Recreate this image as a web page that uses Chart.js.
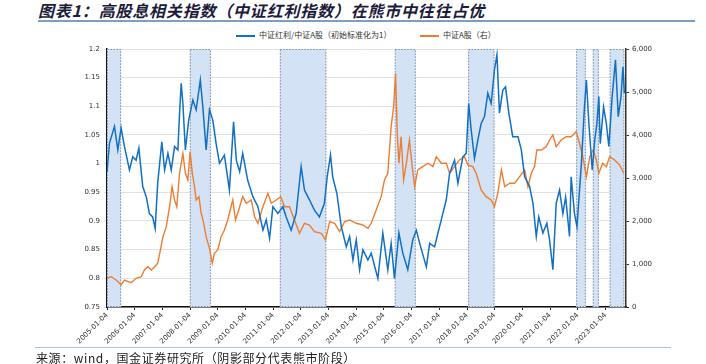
<!DOCTYPE html>
<html>
<head>
<meta charset="utf-8">
<script src="https://cdn.jsdelivr.net/npm/chart.js@4.4.0/dist/chart.umd.min.js"></script>
<style>
  body { margin: 0; width: 706px; height: 364px; background: #fff; position: relative; overflow: hidden; font-family: "Noto Sans CJK SC", sans-serif; }
  #title { position: absolute; left: 38px; top: 0; font-size: 16px; font-weight: bold; font-style: italic; color: #1c1c3a; white-space: nowrap; line-height: 20px; letter-spacing: 0.8px; }
  #topline { position: absolute; left: 38px; top: 20px; width: 657px; height: 2px; background: #7a9fbf; }
  .leg { position: absolute; top: 29px; font-size: 8px; color: #333; white-space: nowrap; line-height: 12px; }
  .leg i { display: inline-block; width: 19px; height: 2px; vertical-align: middle; margin-right: 4px; }
  #chart { position: absolute; left: 0; top: 0; }
  #bottomline { position: absolute; left: 35px; top: 347px; width: 636px; height: 1px; background: #a9c3da; }
  #source { position: absolute; left: 36px; top: 350px; font-size: 12px; color: #222; white-space: nowrap; line-height: 16px; letter-spacing: 0.6px; }
</style>
</head>
<body>
<div id="title">图表1：高股息相关指数（中证红利指数）在熊市中往往占优</div>
<div id="topline"></div>
<div id="legend"></div>
<canvas id="chart" width="706" height="364"></canvas>
<div id="bottomline"></div>
<div id="source">来源：wind，国金证券研究所（阴影部分代表熊市阶段）</div>

<script>
const seriesNames = ['中证红利/中证A股（初始标准化为1）', '中证A股（右）'];
const seriesColors = ['#1170c4', '#ed7d31'];

// 中证红利/中证A股, x = 年份(小数)
const ratioDates = [2005.00, 2005.09, 2005.27, 2005.39, 2005.51, 2005.63, 2005.81, 2005.93, 2006.05, 2006.15,
  2006.29, 2006.42, 2006.53, 2006.65, 2006.74, 2006.83, 2006.98, 2007.08, 2007.20, 2007.32,
  2007.44, 2007.56, 2007.62, 2007.68, 2007.74, 2007.83, 2007.95, 2008.10, 2008.22, 2008.37,
  2008.46, 2008.58, 2008.70, 2008.82, 2008.94, 2009.06, 2009.24, 2009.42, 2009.57, 2009.67,
  2009.79, 2009.90, 2010.08, 2010.27, 2010.45, 2010.63, 2010.75, 2010.87, 2010.99, 2011.17,
  2011.35, 2011.47, 2011.65, 2011.83, 2012.01, 2012.13, 2012.31, 2012.49, 2012.67, 2012.85,
  2012.95, 2013.07, 2013.15, 2013.30, 2013.46, 2013.64, 2013.76, 2013.88, 2014.00, 2014.12,
  2014.24, 2014.42, 2014.54, 2014.78, 2014.96, 2015.14, 2015.26, 2015.38, 2015.54, 2015.68,
  2015.86, 2016.04, 2016.17, 2016.29, 2016.53, 2016.65, 2016.83, 2016.95, 2017.07, 2017.25,
  2017.37, 2017.55, 2017.67, 2017.85, 2017.97, 2018.06, 2018.15, 2018.27, 2018.39, 2018.51,
  2018.63, 2018.75, 2018.87, 2018.99, 2019.08, 2019.17, 2019.29, 2019.39, 2019.51, 2019.65,
  2019.84, 2019.96, 2020.08, 2020.26, 2020.38, 2020.50, 2020.59, 2020.74, 2020.88, 2020.98,
  2021.10, 2021.22, 2021.34, 2021.46, 2021.56, 2021.70, 2021.76, 2021.88, 2021.97, 2022.13,
  2022.24, 2022.31, 2022.40, 2022.52, 2022.61, 2022.69, 2022.76, 2022.81, 2022.93, 2023.03,
  2023.12, 2023.24, 2023.36, 2023.46, 2023.56, 2023.63, 2023.68];
const ratioValues = [0.986, 1.036, 1.065, 1.024, 1.062, 1.030, 0.989, 1.012, 1.006, 1.027,
  0.960, 0.942, 0.913, 0.907, 0.887, 0.966, 1.038, 0.989, 1.018, 0.989,
  1.030, 1.024, 1.088, 1.140, 1.105, 1.024, 1.076, 1.111, 1.094, 1.146,
  1.099, 1.024, 1.094, 1.076, 1.035, 1.001, 1.015, 0.954, 1.073, 1.006,
  0.986, 1.018, 0.971, 0.942, 0.925, 0.884, 0.902, 0.870, 0.925, 0.913,
  0.925, 0.907, 0.884, 0.913, 0.995, 0.954, 0.937, 0.919, 0.907, 0.931,
  0.977, 1.015, 0.977, 0.948, 0.890, 0.855, 0.873, 0.832, 0.867, 0.815,
  0.850, 0.832, 0.844, 0.800, 0.879, 0.815, 0.861, 0.800, 0.879, 0.844,
  0.815, 0.867, 0.884, 0.861, 0.820, 0.861, 0.855, 0.879, 0.902, 0.937,
  0.983, 1.006, 0.966, 1.012, 1.018, 1.105, 1.059, 1.009, 1.041, 1.070,
  1.082, 1.123, 1.105, 1.163, 1.190, 1.088, 1.128, 1.134, 1.088, 1.047,
  1.047, 1.024, 0.977, 0.960, 0.931, 0.873, 0.907, 0.879, 0.896, 0.867,
  0.815, 0.931, 0.954, 0.913, 0.942, 0.873, 0.977, 0.913, 0.890, 1.001,
  1.099, 1.146, 1.070, 0.989, 1.041, 1.070, 1.117, 1.035, 1.099, 1.070,
  1.030, 1.117, 1.181, 1.082, 1.117, 1.169, 1.123];

// 中证A股 (右轴)
const indexDates = [2005.00, 2005.15, 2005.33, 2005.51, 2005.63, 2005.87, 2006.05, 2006.24, 2006.35, 2006.47,
  2006.60, 2006.72, 2006.83, 2006.93, 2007.02, 2007.14, 2007.26, 2007.35, 2007.44, 2007.52,
  2007.62, 2007.74, 2007.83, 2007.92, 2008.00, 2008.08, 2008.16, 2008.22, 2008.32, 2008.40,
  2008.48, 2008.58, 2008.70, 2008.80, 2008.88, 2009.00, 2009.12, 2009.24, 2009.36, 2009.54,
  2009.64, 2009.79, 2009.90, 2010.03, 2010.21, 2010.33, 2010.45, 2010.63, 2010.81, 2010.93,
  2011.11, 2011.27, 2011.41, 2011.59, 2011.77, 2011.95, 2012.13, 2012.31, 2012.49, 2012.74,
  2012.89, 2013.04, 2013.22, 2013.40, 2013.58, 2013.76, 2014.00, 2014.24, 2014.42, 2014.54,
  2014.72, 2014.90, 2015.02, 2015.14, 2015.26, 2015.35, 2015.42, 2015.48, 2015.54, 2015.62,
  2015.71, 2015.81, 2015.92, 2016.02, 2016.11, 2016.22, 2016.40, 2016.59, 2016.77, 2016.89,
  2017.07, 2017.25, 2017.37, 2017.55, 2017.73, 2017.91, 2018.03, 2018.21, 2018.33, 2018.51,
  2018.69, 2018.87, 2018.99, 2019.11, 2019.24, 2019.36, 2019.54, 2019.72, 2019.90, 2020.08,
  2020.20, 2020.32, 2020.44, 2020.52, 2020.68, 2020.86, 2020.98, 2021.10, 2021.22, 2021.40,
  2021.58, 2021.76, 2021.94, 2022.06, 2022.18, 2022.31, 2022.43, 2022.55, 2022.67, 2022.76,
  2022.90, 2023.03, 2023.15, 2023.33, 2023.51, 2023.66];
const indexValues = [667, 705, 628, 512, 628, 566, 667, 705, 861, 938,
  861, 938, 1016, 1326, 1635, 1868, 2333, 2798, 2489, 2333,
  3110, 3575, 3110, 2954, 3612, 3110, 2798, 2489, 2566, 2180,
  1984, 1635, 1365, 1016, 1249, 1326, 1635, 1791, 2024, 2489,
  2024, 2333, 2566, 2412, 2489, 2100, 1947, 2333, 2645, 2412,
  2489, 2566, 2333, 2333, 2024, 1714, 1947, 1907, 1752, 1714,
  1558, 1984, 1947, 1752, 1984, 2024, 1947, 1907, 1830, 1947,
  2256, 2566, 2954, 3110, 4194, 4659, 5436, 4040, 3343, 3961,
  2954, 3343, 3884, 3264, 2798, 3187, 3264, 3343, 3264, 3497,
  3343, 3343, 3110, 3264, 3420, 3497, 3303, 3264, 3110, 2721,
  2566, 2489, 2333, 2645, 3187, 2798, 2877, 2877, 3031, 3187,
  2798, 3110, 3264, 3652, 3652, 3729, 3884, 4001, 3729, 3884,
  3961, 3961, 4078, 3807, 3497, 3031, 3497, 3652, 3420, 3110,
  3343, 3264, 3497, 3420, 3303, 3110];

// 熊市阶段 (阴影)
const bearStarts = [2005.00, 2007.99, 2011.24, 2015.39, 2018.04, 2021.94, 2022.54, 2023.15];
const bearEnds   = [2005.51, 2008.75, 2012.92, 2016.15, 2018.99, 2022.29, 2022.76, 2023.68];

const tickYears = [2005, 2006, 2007, 2008, 2009, 2010, 2011, 2012, 2013, 2014,
  2015, 2016, 2017, 2018, 2019, 2020, 2021, 2022, 2023];

// legend
const legendLeft = [236, 420];
seriesNames.forEach((name, i) => {
    const d = document.createElement('div');
    d.className = 'leg';
    d.style.left = legendLeft[i] + 'px';
    d.innerHTML = `<i style="background:${seriesColors[i]}"></i>${name}`;
    document.getElementById('legend').appendChild(d);
});

const bearShade = {
    id: 'bearShade',
    beforeDatasetsDraw(chart) {
        const { ctx, chartArea: a, scales: { x } } = chart;
        ctx.save();
        bearStarts.forEach((s, i) => {
            const x0 = x.getPixelForValue(s);
            const x1 = x.getPixelForValue(bearEnds[i]);
            ctx.fillStyle = '#d3e3f5';
            ctx.fillRect(x0, a.top, x1 - x0, a.bottom - a.top);
            ctx.setLineDash([1.5, 1.5]);
            ctx.strokeStyle = '#8391a6';
            ctx.lineWidth = 1;
            ctx.strokeRect(x0 + 0.5, a.top + 0.5, x1 - x0 - 1, a.bottom - a.top - 1);
        });
        ctx.restore();
    }
};

const tickFont = { family: 'DejaVu Sans', size: 7 };

new Chart(document.getElementById('chart'), {
    type: 'line',
    data: {
        datasets: [{
            label: seriesNames[0],
            data: ratioDates.map((d, i) => ({ x: d, y: ratioValues[i] })),
            borderColor: seriesColors[0],
            borderWidth: 1.5,
            yAxisID: 'y',
            order: 0
        }, {
            label: seriesNames[1],
            data: indexDates.map((d, i) => ({ x: d, y: indexValues[i] })),
            borderColor: seriesColors[1],
            borderWidth: 1.4,
            yAxisID: 'y2',
            order: 1
        }]
    },
    options: {
        responsive: false,
        animation: false,
        devicePixelRatio: 1,
        elements: { point: { radius: 0 }, line: { tension: 0 } },
        layout: { padding: { left: 67, right: 30, top: 49, bottom: 7 } },
        plugins: { legend: { display: false }, tooltip: { enabled: false } },
        scales: {
            x: {
                type: 'linear',
                min: 2005,
                max: 2023.74,
                afterBuildTicks: s => { s.ticks = tickYears.map(v => ({ value: v })); },
                afterFit: s => { s.height = 50; },
                ticks: {
                    callback: v => v + '-01-04',
                    autoSkip: false,
                    maxRotation: 45,
                    minRotation: 45,
                    font: tickFont,
                    color: '#333',
                    padding: 1
                },
                grid: { drawOnChartArea: false, tickLength: 3, color: '#222' },
                border: { color: '#111', width: 1.5 }
            },
            y: {
                position: 'left',
                min: 0.75,
                max: 1.2,
                afterFit: s => { s.width = 40; },
                ticks: {
                    stepSize: 0.05,
                    callback: v => String(Number(v.toFixed(2))),
                    font: tickFont,
                    color: '#333',
                    padding: 4
                },
                grid: { color: '#e2e2e2', tickLength: 3 },
                border: { color: '#111', width: 1.5 }
            },
            y2: {
                position: 'right',
                min: 0,
                max: 6000,
                afterFit: s => { s.width = 50; },
                ticks: { stepSize: 1000, font: tickFont, color: '#333', padding: 3 },
                grid: { drawOnChartArea: false, tickLength: 3, color: '#333' },
                border: { color: '#333', width: 1.5 }
            }
        }
    },
    plugins: [bearShade]
});
</script>
</body>
</html>
